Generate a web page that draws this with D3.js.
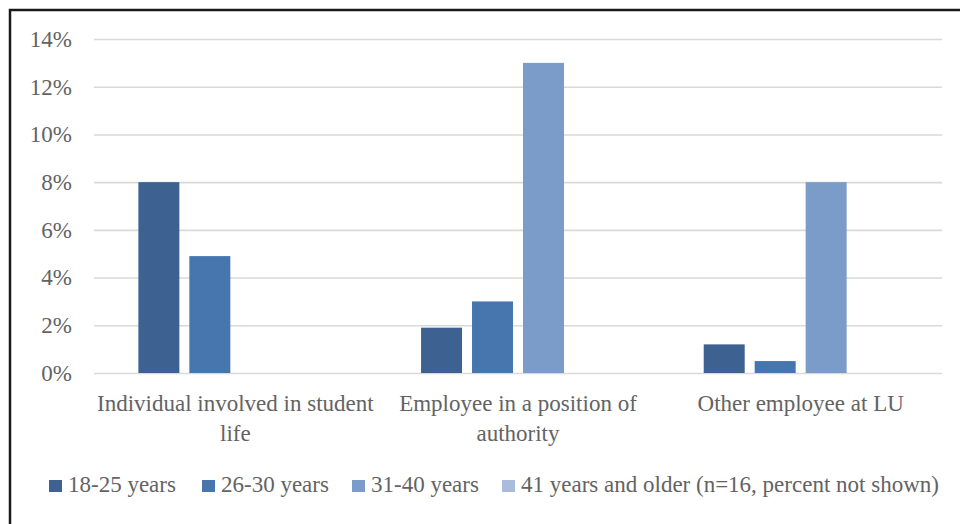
<!DOCTYPE html>
<html>
<head>
<meta charset="utf-8">
<script src="https://cdn.jsdelivr.net/npm/d3@7/dist/d3.min.js"></script>
<style>
  html, body { margin: 0; padding: 0; background: #fff; }
  svg { display: block; font-family: "Liberation Serif", "Times New Roman", serif; }
</style>
</head>
<body>
<svg id="chart" width="960" height="524"></svg>
<script>
// Groups of respondents (line breaks mark how each label wraps)
const categories = [
  "Individual involved in student\nlife",
  "Employee in a position of\nauthority",
  "Other employee at LU"
];
// Age bands shown in the legend
const seriesNames = ["18-25 years", "26-30 years", "31-40 years", "41 years and older (n=16, percent not shown)"];
// Share of respondents per group, one array per age band
const age18to25 = [0.080, 0.019, 0.012];
const age26to30 = [0.049, 0.030, 0.005];
const age31to40 = [0.000, 0.130, 0.080];
const age41plus = [0, 0, 0];
const yTicks = [0, 0.02, 0.04, 0.06, 0.08, 0.10, 0.12, 0.14];
const colors = ["#3d6190", "#4776ae", "#7b9bc8", "#a9bcdc"];

const seriesValues = [age18to25, age26to30, age31to40, age41plus];
const svg = d3.select("#chart");
const textColor = "#636363";

// Outer frame
svg.append("rect")
  .attr("x", 10).attr("y", 10).attr("width", 980).attr("height", 540)
  .attr("fill", "none").attr("stroke", "#1a1a1a").attr("stroke-width", 2.5);

const plot = { left: 94, right: 942, top: 39, bottom: 373 };

const y = d3.scaleLinear().domain([0, 0.14]).range([plot.bottom, plot.top]);
const x0 = d3.scaleBand().domain(categories).range([plot.left, plot.right]).padding(0);
const clusterWidth = x0.bandwidth() * 0.686;
const x1 = d3.scaleBand().domain(d3.range(seriesNames.length))
  .range([0, clusterWidth]).paddingInner(0.196).paddingOuter(0);

// Gridlines and tick labels
const yAxis = d3.axisLeft(y).tickValues(yTicks).tickSize(-(plot.right - plot.left))
  .tickPadding(22).tickFormat(d3.format(".0%"));
const gy = svg.append("g").attr("transform", `translate(${plot.left},0)`).call(yAxis);
gy.select(".domain").remove();
gy.selectAll(".tick line").attr("stroke", "#d9d9d9").attr("stroke-width", 1.6);
gy.selectAll(".tick text").attr("fill", textColor).attr("font-size", 23)
  .attr("font-family", "Liberation Serif, serif");

// Bars
const groups = svg.append("g").selectAll("g").data(categories).join("g")
  .attr("transform", c => `translate(${x0(c) + (x0.bandwidth() - clusterWidth) / 2},0)`);
groups.selectAll("rect")
  .data((c, ci) => seriesValues.map((vals, si) => ({ si, v: vals[ci] })))
  .join("rect")
  .attr("x", d => x1(d.si))
  .attr("width", x1.bandwidth())
  .attr("y", d => y(d.v))
  .attr("height", d => y(0) - y(d.v))
  .attr("fill", d => colors[d.si]);

// Category labels
const catLabels = svg.append("g").selectAll("text").data(categories).join("text")
  .attr("x", c => x0(c) + x0.bandwidth() / 2)
  .attr("y", 411)
  .attr("text-anchor", "middle")
  .attr("fill", textColor).attr("font-size", 23);
catLabels.selectAll("tspan").data(c => c.split("\n")).join("tspan")
  .attr("x", function () { return d3.select(this.parentNode).attr("x"); })
  .attr("dy", (d, i) => i === 0 ? 0 : 30)
  .text(d => d);

// Legend
const legendX = [49, 202, 352, 502];
const legend = svg.append("g").selectAll("g").data(seriesNames).join("g")
  .attr("transform", (d, i) => `translate(${legendX[i]},480)`);
legend.append("rect").attr("width", 13).attr("height", 12).attr("fill", (d, i) => colors[i]);
legend.append("text").attr("x", 19).attr("y", 12)
  .attr("fill", textColor).attr("font-size", 23).text(d => d);
</script>
</body>
</html>
